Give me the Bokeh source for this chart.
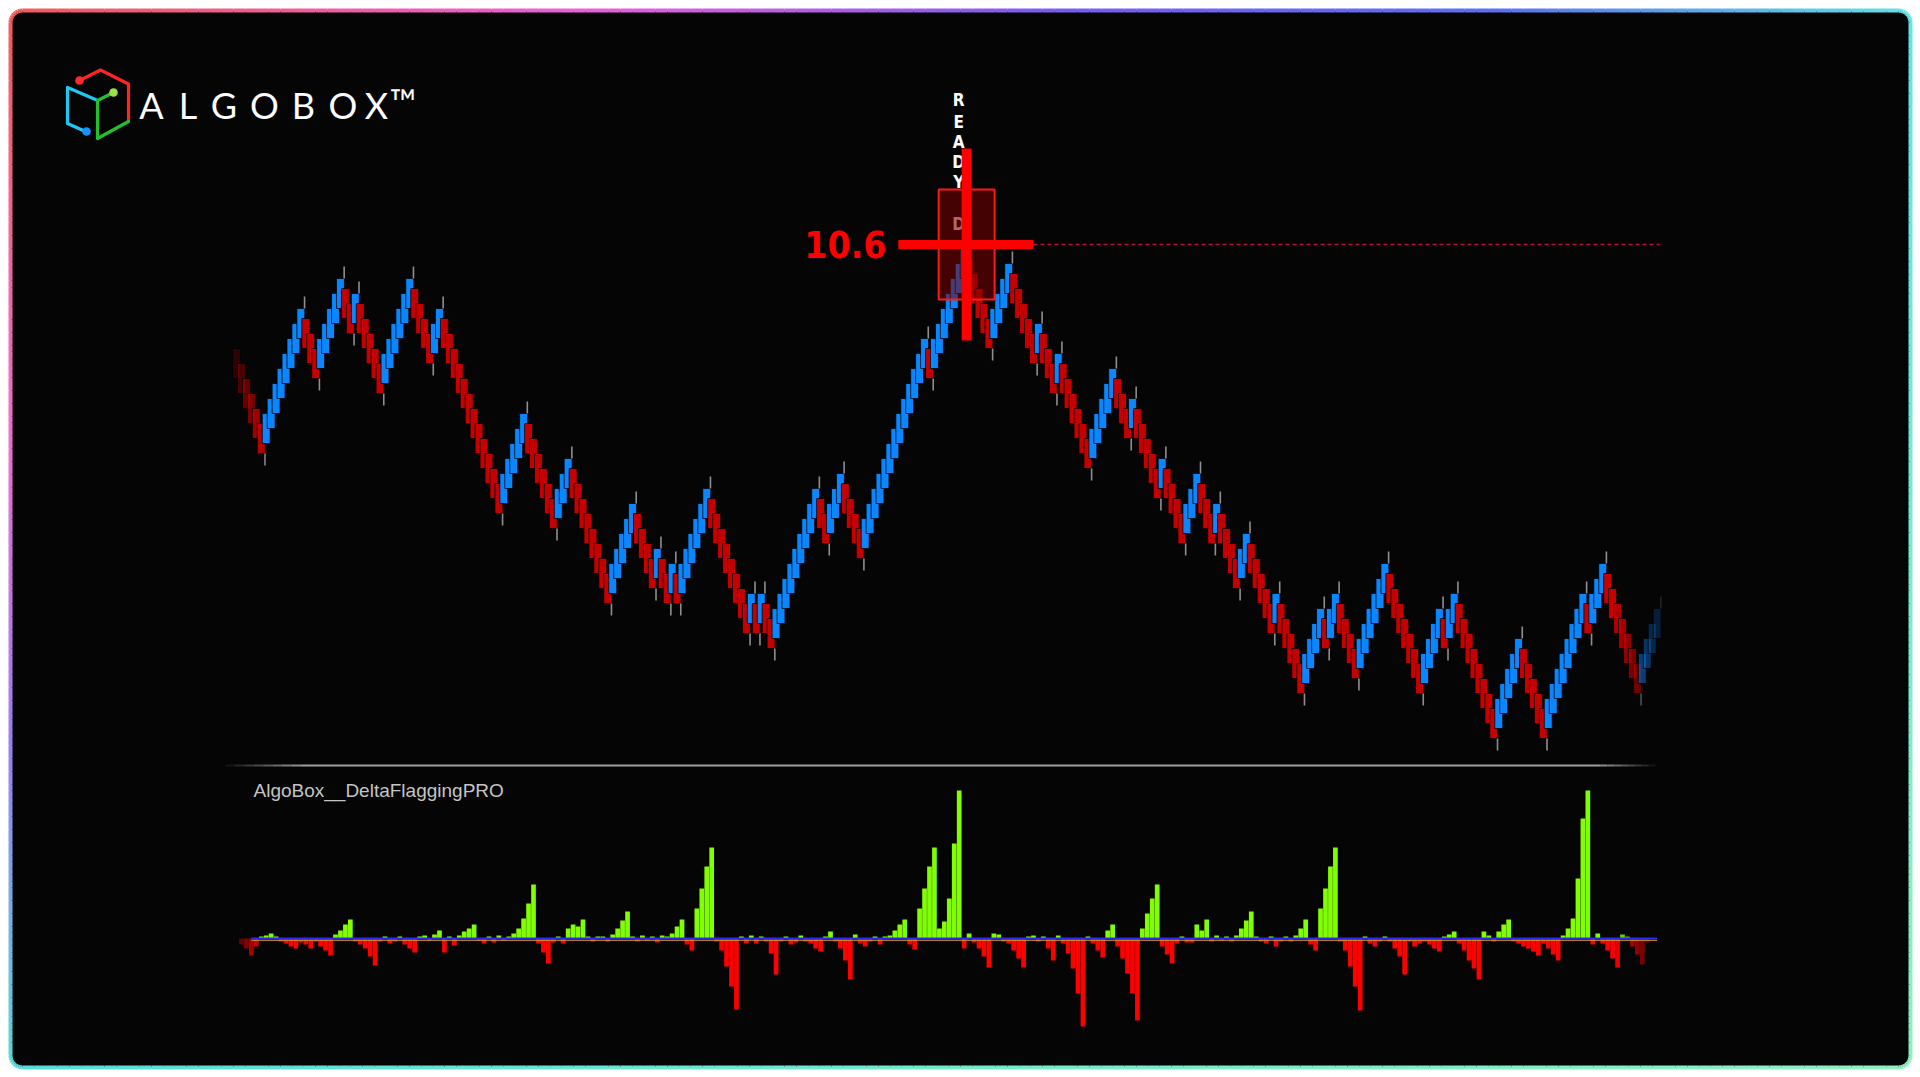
import math
from bokeh.plotting import figure
from bokeh.models import Range1d, ColumnDataSource
from bokeh.embed import file_html
from bokeh.resources import INLINE
from bokeh.core.properties import value

# ------------------------------------------------------------------ data
# Renko bricks, one letter per brick (U = up / blue, D = down / red), read left to right
brick_dirs = ("DDDDDD UUUUUUUU DDD UUUUU DD U DDDDD UUUUUU DDDD UU DDDDDDDDDDDD UUUUU DDDDDD UUU "
              "DDDDDDDD UUUUU DDDD U DD U D UUUUUU DDDDDDDD U D U DD UUUUUUUUU DD UUU DDDD "
              "UUUUUUUUUUUUU D UUUUUUU DDDDD UUUU DDDDD U DDD U DDDDDD UUUUU DDD U DDDDD U DDDD "
              "UUU DDD U DDDD UU DDDDD U DDDDD UUUU D UU DDDD UUUUUU DDDDDDD UUUU D UU DDDDDDDD "
              "UUUUU DDDDD UUUUUUUU D UUU DDDDDDD UUUU")
first_brick_top = 9.56
box_size = 0.15
reversal_move = 0.10
body_boxes = 2
wick_len = 0.12

signal_price = 10.6
signal_label = "10.6"
signal_word = "READY"
indicator_name = "AlgoBox__DeltaFlaggingPRO"
logo_letters = ["A", "L", "G", "O", "B", "O", "X", "\u2122"]

# delta histogram, one value per brick
delta = [0, -6, -10, -17, -8, 2, 3, 5, 2, -3,
         -5, -8, -10, -4, -6, -10, -3, -8, -12, -17,
         4, 8, 14, 19, -3, -6, -10, -18, -27, -3,
         2, -5, -3, 2, -6, -10, -14, 2, 3, -2,
         4, 8, -14, 2, -7, 3, 7, 10, 14, -2,
         -5, 2, -4, 3, -2, 2, 5, 10, 20, 35,
         54, -5, -14, -25, -4, 2, -5, 10, 14, 12,
         19, 2, -3, 2, 2, -3, 4, 10, 18, 27,
         2, -3, 3, -2, 2, -4, 3, 2, 5, 12,
         19, -6, -12, 30, 50, 72, 91, -3, -12, -28,
         -48, -71, 2, -5, 3, -5, 2, -3, -15, -36,
         -3, 2, -6, -4, 3, -3, -5, -10, -13, 2,
         7, -3, -10, -22, -41, 4, -5, -8, -3, 2,
         -6, 2, 3, 8, 14, 19, -6, -11, 30, 50,
         72, 91, 10, 17, 40, 95, 148, -10, 5, -4,
         -10, -18, -29, 5, 4, -3, -5, -12, -20, -29,
         2, 3, -3, 2, -10, -22, 3, -5, -15, -30,
         -55, -88, 2, -5, -12, -19, 8, 14, -8, -20,
         -35, -55, -82, 10, 25, 40, 54, -8, -16, -25,
         -5, 2, -4, -4, 14, 8, 19, -3, 3, -2,
         2, -3, 3, 10, 18, 27, 2, -3, -5, 2,
         -8, -3, 2, -3, 3, 10, 19, -6, -12, 30,
         50, 72, 91, -3, -12, -28, -48, -72, 2, -5,
         -8, -3, 2, -3, -10, -18, -36, -3, -8, -5,
         -3, -6, -10, -13, 2, 4, 7, -5, -12, -22,
         -30, -41, 7, 3, -3, 7, 14, 19, -3, -5,
         -8, -10, -13, -17, -5, -10, -16, -22, 3, 10,
         20, 60, 120, 148, -6, 5, -5, -12, -20, -29,
         4, 2, -8, -16, -26, -4, 0, 0]

# ------------------------------------------------------------------ derived
dirs = [c for c in brick_dirs if c in "UD"]
n = len(dirs)
tops = []
for i, d in enumerate(dirs):
    if i == 0:
        t = first_brick_top
    else:
        step = box_size if d == dirs[i - 1] else reversal_move
        t = tops[-1] + (step if d == "U" else -step)
    tops.append(round(t, 4))
bottoms = [round(t - body_boxes * box_size, 4) for t in tops]
idx = list(range(n))

UP, DOWN = "#0a86ff", "#c40000"


def fade(i, total):
    a = 1.0
    if i < 6:
        a = min(a, 0.22 + 0.14 * i)
    if i > total - 10:
        a = min(a, max(0.2, 1 - 0.09 * (i - (total - 10))))
    return a


HALF = 0.8
brick_src = ColumnDataSource(dict(
    left=[i - HALF for i in idx], right=[i + HALF for i in idx],
    top=tops, bottom=bottoms,
    color=[UP if d == "U" else DOWN for d in dirs],
    alpha=[fade(i, n) for i in idx]))

# wicks at swing extremes
wx, wy0, wy1, wa = [], [], [], []
for i in idx:
    last = (i == n - 1) or dirs[i + 1] != dirs[i]
    if last:
        wx.append(i + HALF - 0.05)
        if dirs[i] == "U":
            wy0.append(tops[i]); wy1.append(tops[i] + wick_len)
        else:
            wy0.append(bottoms[i]); wy1.append(bottoms[i] - wick_len)
        wa.append(fade(i, n))

sig_i = tops.index(max(tops))
sig_x = sig_i + 0.5

# ------------------------------------------------------------------ figure
W, H = 1920, 1077
PX_PER_IDX = 4.95
x_start = -236 / PX_PER_IDX
p = figure(width=W, height=H, output_backend="svg", toolbar_location=None,
           x_range=Range1d(x_start, x_start + W / PX_PER_IDX),
           y_range=Range1d(signal_price - (H - 244) / 100, signal_price + 244 / 100),
           min_border=0, x_axis_location=None, y_axis_location=None,
           background_fill_color="white", border_fill_color="white",
           outline_line_color=None)
p.grid.visible = False
p.extra_x_ranges = {"px": Range1d(0, W)}
p.extra_y_ranges = {"py": Range1d(H, 0), "delta": Range1d(-(H - 938), 938)}
PX = dict(x_range_name="px", y_range_name="py")

# panel
p.quad(left=[10], right=[1910], top=[10], bottom=[1067], border_radius=12,
       fill_color="#050505", line_color=None, **PX)


# gradient frame
def h2r(h):
    return tuple(int(h[k:k + 2], 16) for k in (1, 3, 5))


def grad(stops, t):
    t = max(0.0, min(1.0, t))
    for (p0, c0), (p1, c1) in zip(stops[:-1], stops[1:]):
        if p0 <= t <= p1:
            f = (t - p0) / (p1 - p0) if p1 > p0 else 0
            a, b = h2r(c0), h2r(c1)
            return "#%02x%02x%02x" % tuple(int(a[k] + (b[k] - a[k]) * f) for k in range(3))
    return stops[-1][1]


top_stops = [(0, "#f45c5c"), (0.3, "#ee60dc"), (0.55, "#7a5cf2"), (0.78, "#5b70f2"), (1, "#5fe6e6")]
right_stops = [(0, "#5fe6e6"), (1, "#90f0c0")]
bottom_stops = [(0, "#58dcd8"), (0.5, "#70eccc"), (1, "#90f0c0")]
left_stops = [(0, "#f45c5c"), (0.4, "#ee70d0"), (0.7, "#9a80f0"), (1, "#58dcd8")]
L, R, T, B, rad = 10, 1910, 10, 1067, 12
bx0, by0, bx1, by1, bc = [], [], [], [], []


def add_edge(pts, colfun):
    for (xa, ya), (xb, yb) in zip(pts[:-1], pts[1:]):
        bx0.append(xa); by0.append(ya); bx1.append(xb); by1.append(yb)
        bc.append(colfun((xa + xb) / 2, (ya + yb) / 2))


N = 160
add_edge([(L + rad + (R - L - 2 * rad) * k / N, T) for k in range(N + 1)],
         lambda x, y: grad(top_stops, (x - L) / (R - L)))
add_edge([(R, T + rad + (B - T - 2 * rad) * k / N) for k in range(N + 1)],
         lambda x, y: grad(right_stops, (y - T) / (B - T)))
add_edge([(R - rad - (R - L - 2 * rad) * k / N, B) for k in range(N + 1)],
         lambda x, y: grad(bottom_stops, (x - L) / (R - L)))
add_edge([(L, B - rad - (B - T - 2 * rad) * k / N) for k in range(N + 1)],
         lambda x, y: grad(left_stops, (y - T) / (B - T)))
for (cx, cy, a0, col) in [(R - rad, T + rad, -90, top_stops[-1][1]), (R - rad, B - rad, 0, right_stops[-1][1]),
                          (L + rad, B - rad, 90, bottom_stops[0][1]), (L + rad, T + rad, 180, top_stops[0][1])]:
    pts = [(cx + rad * math.cos(math.radians(a0 + 90 * k / 8)), cy + rad * math.sin(math.radians(a0 + 90 * k / 8)))
           for k in range(9)]
    add_edge(pts, lambda x, y, col=col: col)
p.segment(bx0, by0, bx1, by1, line_color=bc, line_width=4, **PX)

# logo icon
ic = dict(line_width=3.2, line_cap="round", line_join="round", **PX)
p.line([95, 67, 67, 85], [99, 87, 123, 131], line_color="#1ec8f0", **ic)
p.line([79, 100, 128, 128], [80, 69.5, 83.5, 120], line_color="#ff2424", **ic)
p.line([128, 97, 97, 113], [121, 138, 100, 92], line_color="#22c02a", **ic)
p.circle([79, 113, 86], [80, 92, 131], radius=4.3, fill_color=["#ff2a2a", "#9ee04a", "#1e8fff"],
         line_color=None, **PX)
p.text(x=[151, 187.5, 223.3, 264, 303, 342.5, 376, 402.5], y=[104] * 7 + [100], text=logo_letters,
       text_font=value("Lato"), text_font_size="36px", text_color="white",
       text_align="center", text_baseline="middle", **PX)

# separator and indicator name
p.segment([300], [765], [1600], [765], line_color="#a0a0a0", line_width=2, **PX)
for k in range(8):
    a = (k + 1) / 9
    p.segment([225 + k * 9.4, 1655 - (k + 1) * 6.9], [765, 765], [225 + (k + 1) * 9.4, 1655 - k * 6.9], [765, 765],
              line_color="#a0a0a0", line_alpha=[a, a], line_width=2, **PX)
p.text(x=[253], y=[790], text=[indicator_name], text_font=value("Liberation Sans"), text_font_size="19px",
       text_color="#c4c4c4", text_baseline="middle", **PX)

# bricks
p.quad(left="left", right="right", top="top", bottom="bottom", source=brick_src,
       fill_color="color", fill_alpha="alpha", line_color="#000000", line_alpha=0.75, line_width=1)
p.segment(x0=wx, y0=wy0, x1=wx, y1=wy1, line_color="#8f8f8f", line_alpha=wa, line_width=1.6)

# delta histogram
m = min(n, len(delta))
hist_src = ColumnDataSource(dict(
    x=idx[:m], top=delta[:m], bottom=[0] * m,
    color=["#80ff00" if v > 0 else "#ff0000" for v in delta[:m]],
    alpha=[fade(i, m) for i in range(m)]))
p.vbar(x="x", width=0.95, top="top", bottom="bottom", source=hist_src, fill_color="color",
       fill_alpha="alpha", line_color=None, y_range_name="delta")
p.segment([3], [-1.8], [m - 1], [-1.8], line_color="#e0a000", line_width=1, y_range_name="delta")
p.segment([3], [0], [m - 1], [0], line_color="#2a2aff", line_width=2, y_range_name="delta")

# signal annotation
COND = value("DejaVu Sans Condensed")
p.segment([sig_x + 13.5], [signal_price], [n - 0.5], [signal_price], line_color="#b8103a",
          line_width=1.5, line_dash="4 3")
p.quad(left=[sig_x - 5.65], right=[sig_x + 5.65], top=[signal_price + 0.55], bottom=[signal_price - 0.55],
       fill_color="#7a0000", fill_alpha=0.55, line_color="#ff1a1a", line_width=2)
letters = list(signal_word)
p.text(x=[sig_x - 1.6] * len(letters), y=[signal_price + (244 - yc) / 100 for yc in (99, 121, 141, 161.5, 181.5)],
       text=letters, text_font=COND, text_font_style="bold", text_font_size="17px",
       text_color="white", text_align="center", text_baseline="middle")
p.text(x=[sig_x - 1.6], y=[signal_price + (244 - 223.5) / 100], text=["D"],
       text_font=COND, text_font_style="bold", text_font_size="17px",
       text_color="#ffb0b0", text_alpha=0.6, text_align="center", text_baseline="middle")
p.quad(left=[sig_x - 1.0], right=[sig_x + 1.0], top=[signal_price + 0.96], bottom=[signal_price - 0.96],
       fill_color="#ff0000", line_color=None)
p.quad(left=[sig_x - 13.8], right=[sig_x + 13.5], top=[signal_price + 0.045], bottom=[signal_price - 0.045],
       fill_color="#ff0000", line_color=None)
p.text(x=[sig_x - 16.2], y=[signal_price], text=[signal_label], text_font=COND,
       text_font_style="bold", text_font_size="37px", text_color="#ff0000",
       text_align="right", text_baseline="middle")

open("out.html", "w").write(file_html(p, INLINE))
